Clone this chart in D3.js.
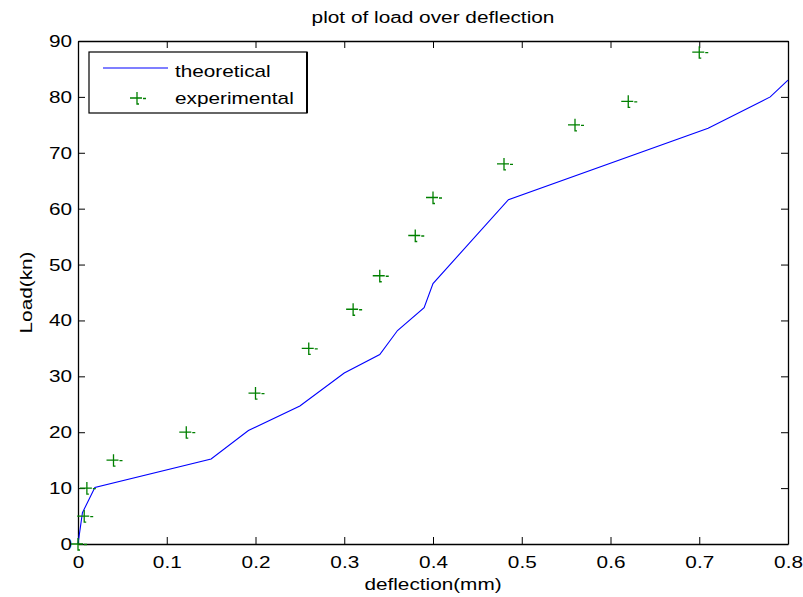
<!DOCTYPE html>
<html>
<head>
<meta charset="utf-8">
<script src="https://cdn.jsdelivr.net/npm/d3@7"></script>
<style>
  body { margin: 0; background: #fff; }
  text { font-family: "Liberation Sans", Arial, sans-serif; fill: #000; }
</style>
</head>
<body>
<div id="chart"></div>
<script>
// Theoretical curve (deflection mm, load kN)
var theoDeflection = [0, 0.005, 0.019, 0.15, 0.192, 0.25, 0.3, 0.34, 0.36, 0.39, 0.4, 0.485, 0.71, 0.78, 0.8];
var theoLoad       = [0, 5.6, 10.1, 15.2, 20.3, 24.7, 30.6, 33.9, 38.2, 42.3, 46.6, 61.6, 74.4, 80, 83];

// Experimental points
var expDeflection = [0, 0.007, 0.01, 0.04, 0.122, 0.2, 0.26, 0.31, 0.34, 0.38, 0.4, 0.48, 0.56, 0.62, 0.7];
var expLoad       = [0, 5, 10, 15, 20, 27, 35, 42, 48, 55.2, 62, 68, 75, 79.2, 88];

var xTicks = [0, 0.1, 0.2, 0.3, 0.4, 0.5, 0.6, 0.7, 0.8];
var yTicks = [0, 10, 20, 30, 40, 50, 60, 70, 80, 90];

var titles = {main: 'plot of load over deflection', x: 'deflection(mm)', y: 'Load(kn)'};
var legendLabels = ['theoretical', 'experimental'];

var W = 803, H = 597;
var margin = {top: 41, right: 15, bottom: 53, left: 78};
var width = W - margin.left - margin.right;
var height = H - margin.top - margin.bottom;

var svg = d3.select('#chart').append('svg')
    .attr('width', W)
    .attr('height', H);

var plotArea = svg.append('g')
    .attr('transform', `translate(${margin.left}, ${margin.top})`);

var x = d3.scaleLinear().domain([0, 0.8]).range([0, width]);
var y = d3.scaleLinear().domain([0, 90]).range([height, 0]);

var fmtX = d => d === 0 ? '0' : d3.format('.1f')(d);

// Axes, MATLAB style: ticks inside, box on all sides
var xAxis = plotArea.append('g')
    .attr('transform', `translate(0, ${height})`)
    .call(d3.axisBottom(x).tickValues(xTicks).tickFormat(fmtX).tickSizeInner(-7).tickSizeOuter(0).tickPadding(12));
var yAxis = plotArea.append('g')
    .call(d3.axisLeft(y).tickValues(yTicks).tickSizeInner(-7).tickSizeOuter(0).tickPadding(6));
plotArea.append('g')
    .call(d3.axisTop(x).tickValues(xTicks).tickFormat('').tickSizeInner(-7).tickSizeOuter(0));
plotArea.append('g')
    .attr('transform', `translate(${width}, 0)`)
    .call(d3.axisRight(y).tickValues(yTicks).tickFormat('').tickSizeInner(-7).tickSizeOuter(0));

plotArea.selectAll('.domain').attr('stroke', '#000').attr('stroke-width', 1.3);
plotArea.selectAll('.tick line').attr('stroke', '#000');
plotArea.selectAll('.tick text').attr('font-size', 17).attr('font-family', null);

// Theoretical line
var theo = theoDeflection.map((d, i) => [d, theoLoad[i]]);
plotArea.append('path')
    .datum(theo)
    .attr('fill', 'none')
    .attr('stroke', '#0000ff')
    .attr('stroke-width', 1.1)
    .attr('d', d3.line().x(d => x(d[0])).y(d => y(d[1])));

// Experimental markers
var plusPath = 'M-7,0H5 M6,0.5H9 M0,-6V6H2';
var exp = expDeflection.map((d, i) => [d, expLoad[i]]);
plotArea.append('g')
  .selectAll('path')
  .data(exp)
  .join('path')
    .attr('transform', d => `translate(${x(d[0])}, ${y(d[1])})`)
    .attr('d', plusPath)
    .attr('fill', 'none')
    .attr('stroke', '#008000')
    .attr('stroke-width', 1.3);

// Legend
var legend = svg.append('g').attr('transform', 'translate(89, 52)');
legend.append('rect')
    .attr('width', 218).attr('height', 61)
    .attr('fill', '#fff').attr('stroke', '#000').attr('stroke-width', 1.2);
legend.append('line')
    .attr('x1', 218).attr('x2', 218).attr('y1', 0).attr('y2', 61)
    .attr('stroke', '#000').attr('stroke-width', 2);
legend.append('line')
    .attr('x1', 14).attr('x2', 79).attr('y1', 16).attr('y2', 16)
    .attr('stroke', '#0000ff').attr('stroke-width', 1.1);
legend.append('path')
    .attr('transform', 'translate(48, 46)')
    .attr('d', plusPath)
    .attr('fill', 'none').attr('stroke', '#008000').attr('stroke-width', 1.3);
legend.selectAll('text.lab')
  .data(legendLabels)
  .join('text')
    .attr('class', 'lab')
    .attr('x', 86)
    .attr('y', (d, i) => 25 + i * 27)
    .attr('font-size', 17)
    .text(d => d);

// Titles
svg.append('text')
    .attr('class', 'title')
    .attr('x', margin.left + width / 2)
    .attr('y', 23)
    .attr('text-anchor', 'middle')
    .attr('font-size', 16)
    .text(titles.main);
svg.append('text')
    .attr('x', margin.left + width / 2)
    .attr('y', 590)
    .attr('text-anchor', 'middle')
    .attr('font-size', 17)
    .text(titles.x);
svg.append('text')
    .attr('transform', `translate(32, ${margin.top + height / 2}) rotate(-90)`)
    .attr('text-anchor', 'middle')
    .attr('font-size', 17)
    .text(titles.y);

// The source image is stretched horizontally; widen glyphs to match
svg.selectAll('text').each(function() {
  var w = this.getComputedTextLength();
  var k = this.getAttribute('class') === 'title' ? 1.3 : 1.22;
  if (w > 0) {
    d3.select(this).attr('textLength', w * k).attr('lengthAdjust', 'spacingAndGlyphs');
  }
});
</script>
</body>
</html>
